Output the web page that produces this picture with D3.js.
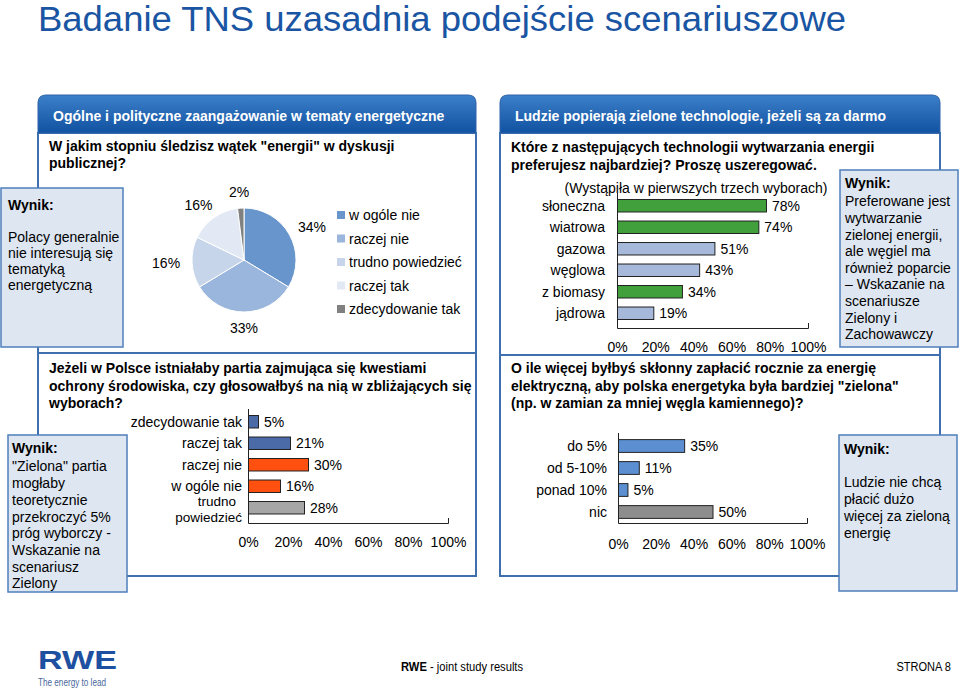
<!DOCTYPE html>
<html><head><meta charset="utf-8">
<script src="https://cdn.jsdelivr.net/npm/d3@7"></script>
<style>body{margin:0;background:#fff}svg{display:block}</style>
</head><body>
<svg id="c" width="960" height="692"></svg>
<script>
// ---------- DATA ----------
const pieCategories = ["w ogóle nie","raczej nie","trudno powiedzieć","raczej tak","zdecydowanie tak"];
const pieValues = [34,33,16,16,2];
const partyCategories = ["zdecydowanie tak","raczej tak","raczej nie","w ogóle nie","trudno\npowiedzieć"];
const partyValues = [5,21,30,16,28];
const techCategories = ["słoneczna","wiatrowa","gazowa","węglowa","z biomasy","jądrowa"];
const techValues = [78,74,51,43,34,19];
const payCategories = ["do 5%","od 5-10%","ponad 10%","nic"];
const payValues = [35,11,5,50];
const tickValues = [0,20,40,60,80,100];
const tickLabels = ["0%","20%","40%","60%","80%","100%"];

// ---------- STYLES ----------
const pieColors = ["#6896cc","#9ab6dc","#c6d5ea","#e2e9f4","#808080"];
const partyColors = ["#4a6ba8","#4a6ba8","#ff5010","#ff5010","#a6a6a6"];
const techColors = ["#41a03c","#41a03c","#a7b9db","#a7b9db","#41a03c","#a7b9db"];
const payColors = ["#5b8fd2","#5b8fd2","#5b8fd2","#8d8d8d"];
const FONT = "'Liberation Sans', Arial, Helvetica, sans-serif";
const BORDER = "#3f6fae";

const svg = d3.select("#c");
const defs = svg.append("defs");
const grad = defs.append("linearGradient").attr("id","hdr").attr("x1",0).attr("y1",0).attr("x2",0).attr("y2",1);
grad.append("stop").attr("offset","0%").attr("stop-color","#3c7fc9");
grad.append("stop").attr("offset","100%").attr("stop-color","#1152a1");

function T(parent, x, y, str, o = {}) {
  return parent.append("text")
    .attr("x", x).attr("y", y)
    .attr("font-family", FONT)
    .attr("font-size", o.size || 14)
    .attr("font-weight", o.bold ? "bold" : "normal")
    .attr("fill", o.fill || "#000")
    .attr("text-anchor", o.anchor || "start")
    .text(str);
}
function lines(parent, x, ys, arr, o) { arr.forEach((s,i)=>T(parent, x, ys[i], s, o)); }

// ---------- TITLE ----------
svg.append("text").attr("x",38).attr("y",31)
  .attr("font-family",FONT).attr("font-size",35).attr("fill","#1a55a3")
  .attr("textLength",808).attr("lengthAdjust","spacingAndGlyphs")
  .text("Badanie TNS uzasadnia podejście scenariuszowe");

// ---------- PANELS ----------
function panel(x0, x1, title) {
  const g = svg.append("g");
  const r = 8, y0 = 95, yh = 133, yb = 576;
  g.append("rect").attr("x",x0).attr("y",yh).attr("width",x1-x0).attr("height",yb-yh)
    .attr("fill","#fff").attr("stroke",BORDER).attr("stroke-width",2);
  g.append("path").attr("d",`M${x0},${yh} V${y0+r} Q${x0},${y0} ${x0+r},${y0} H${x1-r} Q${x1},${y0} ${x1},${y0+r} V${yh} Z`)
    .attr("fill","url(#hdr)").attr("stroke","#2f65a8").attr("stroke-width",1);
  T(g, x0+15, 121, title, {bold:true, fill:"#fff", size:14});
  return g;
}
const pl = panel(38, 476, "Ogólne i polityczne zaangażowanie w tematy energetyczne");
pl.append("line").attr("x1",38).attr("x2",476).attr("y1",353).attr("y2",353).attr("stroke",BORDER).attr("stroke-width",2);
const pr = panel(500, 940, "Ludzie popierają zielone technologie, jeżeli są za darmo");
pr.append("line").attr("x1",500).attr("x2",940).attr("y1",355).attr("y2",355).attr("stroke",BORDER).attr("stroke-width",2);

// ---------- QUESTIONS ----------
lines(svg, 49, [151,168], ["W jakim stopniu śledzisz wątek \"energii\" w dyskusji","publicznej?"], {bold:true});
lines(svg, 49, [373,391,408], ["Jeżeli  w Polsce istniałaby partia zajmująca się kwestiami","ochrony środowiska, czy głosowałbyś na nią w zbliżających się","wyborach?"], {bold:true});
lines(svg, 511, [152,170], ["Które z następujących technologii wytwarzania energii","preferujesz najbardziej? Proszę uszeregować."], {bold:true});
lines(svg, 511, [373,391,408], ["O ile więcej byłbyś skłonny zapłacić rocznie za energię","elektryczną, aby polska energetyka była bardziej \"zielona\"","(np. w zamian za mniej węgla kamiennego)?"], {bold:true});

// ---------- PIE ----------
const cx = 244, cy = 260, R = 52;
const pie = d3.pie().sort(null).value(d=>d.v);
const pieData = pie(pieCategories.map((c,i)=>({c, v:pieValues[i]})));
const arc = d3.arc().innerRadius(0).outerRadius(R);
const unitArc = d3.arc().innerRadius(1).outerRadius(1);
const pg = svg.append("g").attr("transform",`translate(${cx},${cy})`);
pg.selectAll("path.slice").data(pieData).join("path").attr("class","slice")
  .attr("d",arc).attr("fill",(d,i)=>pieColors[i]).attr("stroke","#fff").attr("stroke-width",1);
pieData.forEach(d=>{
  const [ux,uy] = unitArc.centroid(d);
  T(pg, ux*78, uy*68+5, d.data.v+"%", {anchor:"middle"});
});
const legY = d3.scalePoint().domain(pieCategories).range([215,309]);
pieCategories.forEach((c,i)=>{
  svg.append("rect").attr("x",337).attr("y",legY(c)-4).attr("width",8).attr("height",8).attr("fill",pieColors[i]);
  T(svg, 349, legY(c)+5, c);
});

// ---------- BAR CHART HELPER ----------
function barChart(o) {
  const g = svg.append("g");
  const x = d3.scaleLinear().domain([0,100]).range([o.x0,o.x1]);
  const y = d3.scaleBand().domain(o.cats).range([o.yTop,o.yBot]).paddingInner(o.pad).paddingOuter(o.pad/2);
  const ax = g.append("g").attr("transform",`translate(0,${o.axisY})`)
    .call(d3.axisBottom(x).tickValues(tickValues).tickFormat((d,i)=>tickLabels[i]).tickSizeInner(0).tickSizeOuter(-5).tickPadding(o.tp));
  ax.select(".domain").attr("stroke","#222");
  ax.selectAll("text").attr("font-size",14).attr("font-family",FONT).attr("fill","#000");
  g.append("line").attr("x1",x(0)+0.5).attr("x2",x(0)+0.5).attr("y1",o.yTop-2).attr("y2",o.axisY).attr("stroke","#222");
  g.selectAll("rect.bar").data(o.cats).join("rect").attr("class","bar")
    .attr("x",x(0)+0.5).attr("y",c=>y(c)).attr("height",y.bandwidth())
    .attr("width",(c,i)=>x(o.vals[i])-x(0)).attr("fill",(c,i)=>o.colors[i]).attr("stroke","#222").attr("stroke-width",1);
  o.cats.forEach((c,i)=>{
    const yc = y(c)+y.bandwidth()/2;
    T(g, x(o.vals[i])+6, yc+5, o.vals[i]+"%");
    const parts = c.split("\n");
    if (parts.length === 1) T(g, x(0)-o.gap, yc+5, c, {anchor:"end"});
    else { T(g, x(0)-o.gap-6, yc-2, parts[0], {anchor:"end", size:13.5}); T(g, x(0)-o.gap, yc+14, parts[1], {anchor:"end", size:13.5}); }
  });
}
barChart({cats:partyCategories, vals:partyValues, colors:partyColors, x0:248, x1:448, yTop:411, yBot:518.5, pad:0.42, axisY:523, tp:14, gap:6});
barChart({cats:techCategories, vals:techValues, colors:techColors, x0:617, x1:808, yTop:195, yBot:324, pad:0.42, axisY:328, tp:14, gap:12});
barChart({cats:payCategories, vals:payValues, colors:payColors, x0:618, x1:807, yTop:435, yBot:523, pad:0.42, axisY:523, tp:16, gap:11});
T(svg, 696, 193, "(Wystąpiła w pierwszych trzech wyborach)", {anchor:"middle"});

// ---------- WYNIK BOXES ----------
function box(x0,y0,x1,y1){
  svg.append("rect").attr("x",x0+1).attr("y",y0).attr("width",x1-x0-1).attr("height",y1-y0)
    .attr("fill","#dde6f1").attr("stroke","#4f7fba").attr("stroke-width",1.5);
}
box(0,188,123,347);
T(svg, 8, 210, "Wynik:", {bold:true});
lines(svg, 8, [242,258,274,290], ["Polacy generalnie","nie interesują się","tematyką","energetyczną"]);
box(7,435,127,592);
T(svg, 12, 453, "Wynik:", {bold:true});
lines(svg, 12, [471,488,505,522,538,555,572,588], ["\"Zielona\" partia","mogłaby","teoretycznie","przekroczyć 5%","próg wyborczy -","Wskazanie na","scenariusz","Zielony"]);
box(839,170,958,347);
T(svg, 845, 188, "Wynik:", {bold:true});
lines(svg, 845, [206,223,240,256,273,289,306,323,339], ["Preferowane jest","wytwarzanie","zielonej energii,","ale węgiel ma","również poparcie","– Wskazanie na","scenariusze","Zielony i","Zachowawczy"]);
box(838,435,957,591);
T(svg, 844, 454, "Wynik:", {bold:true});
lines(svg, 844, [487,504,521,538], ["Ludzie nie chcą","płacić dużo","więcej za zieloną","energię"]);

// ---------- FOOTER ----------
svg.append("text").attr("x",38).attr("y",669).attr("font-family",FONT).attr("font-weight","bold")
  .attr("font-size",26).attr("fill","#1d50a0").attr("textLength",79).attr("lengthAdjust","spacingAndGlyphs").text("RWE");
svg.append("text").attr("x",38).attr("y",686).attr("font-family",FONT)
  .attr("font-size",10).attr("fill","#4a679c").attr("textLength",68).attr("lengthAdjust","spacingAndGlyphs").text("The energy to lead");
const ft = svg.append("text").attr("transform",`translate(401,671) scale(0.86,1)`).attr("font-family",FONT).attr("font-size",13);
ft.append("tspan").attr("font-weight","bold").text("RWE");
ft.append("tspan").text(" - joint  study results");
svg.append("text").attr("transform",`translate(951,671) scale(0.85,1)`).attr("font-family",FONT).attr("font-size",13)
  .attr("text-anchor","end").text("STRONA 8");
</script>
</body></html>
